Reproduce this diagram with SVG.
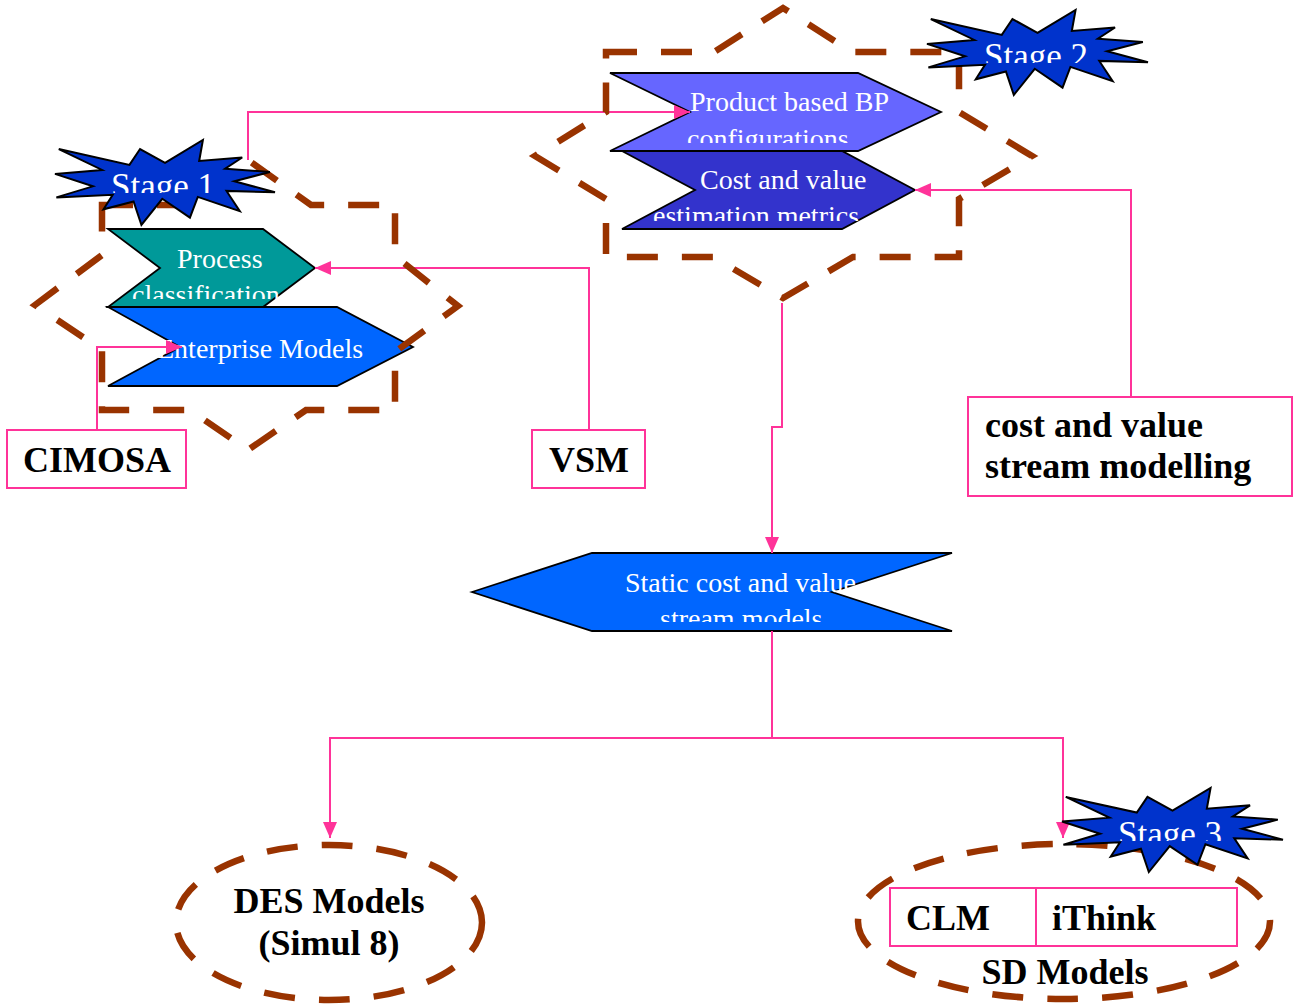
<svg xmlns="http://www.w3.org/2000/svg" width="1293" height="1007" viewBox="0 0 1293 1007">
  <style>
    .zone { fill: none; stroke: #993300; stroke-width: 6.5; stroke-dasharray: 31 24; stroke-linejoin: miter; }
    .chev { stroke: #000; stroke-width: 1.8; stroke-linejoin: miter; }
    .ctext { font-family: "Liberation Serif", "Times New Roman", serif; font-size: 28px; fill: #fff; }
    .star { fill: #0033CC; stroke: #000; stroke-width: 2; vector-effect: non-scaling-stroke; stroke-linejoin: miter; }
    .stext { font-family: "Liberation Serif", "Times New Roman", serif; font-size: 35px; fill: #fff; text-anchor: middle; }
    .box { fill: #fff; stroke: #FF3399; stroke-width: 2; }
    .btext { font-family: "Liberation Serif", "Times New Roman", serif; font-size: 36px; font-weight: bold; fill: #000; }
    .link { fill: none; stroke: #FF3399; stroke-width: 2; marker-end: url(#arr); }
    .plain { fill: none; stroke: #FF3399; stroke-width: 2; }
  </style>
  <defs>
    <marker id="arr" viewBox="0 0 16 14" refX="16" refY="7" markerWidth="16" markerHeight="14" orient="auto" markerUnits="userSpaceOnUse">
      <path d="M0,0 L16,7 L0,14 Z" fill="#FF3399"/>
    </marker>
    <clipPath id="clipProcess"><rect x="100" y="225" width="220" height="74"/></clipPath>
    <clipPath id="clipProduct"><rect x="600" y="65" width="350" height="78"/></clipPath>
    <clipPath id="clipCost"><rect x="600" y="148" width="330" height="73"/></clipPath>
    <clipPath id="clipStatic"><rect x="465" y="550" width="495" height="72"/></clipPath>
    <clipPath id="clipS1"><rect x="50" y="135" width="230" height="58"/></clipPath>
    <clipPath id="clipS2"><rect x="920" y="5" width="235" height="58"/></clipPath>
    <clipPath id="clipS3"><rect x="1055" y="783" width="235" height="58"/></clipPath>
  </defs>

  <rect width="1293" height="1007" fill="#fff"/>

  <!-- model ellipses -->
  <g id="des-models">
    <ellipse class="zone" cx="329" cy="922.5" rx="153" ry="77.5"/>
    <text class="btext" x="329" y="913" text-anchor="middle">DES Models</text>
    <text class="btext" x="329" y="955" text-anchor="middle">(Simul 8)</text>
  </g>
  <g id="sd-models">
    <ellipse class="zone" cx="1064" cy="921.5" rx="206" ry="77.5"/>
    <rect class="box" x="890" y="888" width="347" height="58"/>
    <line class="plain" x1="1036" y1="888" x2="1036" y2="946"/>
    <text class="btext" x="906" y="930">CLM</text>
    <text class="btext" x="1052" y="930">iThink</text>
    <text class="btext" x="1065" y="984" text-anchor="middle">SD Models</text>
  </g>

  <!-- process chevrons -->
  <g id="process-classification">
    <polygon class="chev" fill="#009999" points="108,229 263,229 315,268 263,307 108,307 160,268"/>
    <g clip-path="url(#clipProcess)">
      <text class="ctext" x="177" y="268">Process</text>
      <text class="ctext" x="132" y="304">classification</text>
    </g>
  </g>
  <g id="enterprise-models">
    <polygon class="chev" fill="#0066FF" points="108,307 337,307 413,347 337,386 108,386 180,347"/>
    <text class="ctext" x="157" y="358">Enterprise Models</text>
  </g>
  <g id="product-bp">
    <polygon class="chev" fill="#6666FF" points="610,73 858,73 941,112 858,151 610,151 690,112"/>
    <g clip-path="url(#clipProduct)">
      <text class="ctext" x="690" y="111">Product based BP</text>
      <text class="ctext" x="687" y="148">configurations</text>
    </g>
  </g>
  <g id="cost-value-metrics">
    <polygon class="chev" fill="#3333CC" points="622,151 842,151 915,190 842,229 622,229 695,190"/>
    <g clip-path="url(#clipCost)">
      <text class="ctext" x="700" y="189">Cost and value</text>
      <text class="ctext" x="653" y="225">estimation metrics</text>
    </g>
  </g>
  <g id="static-models">
    <polygon class="chev" fill="#0066FF" points="472,592 592,553 952,553 832,592 952,631 592,631"/>
    <g clip-path="url(#clipStatic)">
      <text class="ctext" x="625" y="592">Static cost and value</text>
      <text class="ctext" x="660" y="628">stream models</text>
    </g>
  </g>

  <!-- method boxes -->
  <g id="cimosa">
    <rect class="box" x="7" y="430" width="179" height="58"/>
    <text class="btext" x="23" y="472">CIMOSA</text>
  </g>
  <g id="vsm">
    <rect class="box" x="532" y="430" width="113" height="58"/>
    <text class="btext" x="549" y="472">VSM</text>
  </g>
  <g id="cvsm">
    <rect class="box" x="968" y="397" width="324" height="99"/>
    <text class="btext" x="985" y="437">cost and value</text>
    <text class="btext" x="985" y="478">stream modelling</text>
  </g>

  <!-- connectors -->
  <g id="connectors">
    <path class="link" d="M248,160 V112 H690"/>
    <path class="link" d="M589,430 V268 H315"/>
    <path class="link" d="M97,430 V347 H182"/>
    <path class="link" d="M1131,397 V190 H915"/>
    <path class="link" d="M782,303 V427 H772 V553"/>
    <path class="plain" d="M772,631 V738"/>
    <path class="link" d="M772,738 H330 V838"/>
    <path class="link" d="M772,738 H1063 V838"/>
  </g>

  <!-- stage boundaries -->
  <g id="stage1-zone">
    <path class="zone" d="M102,205 L185,205 L248,160 L311,205 L395,205 L395,256 L458,306 L395,352 L395,410 L306,410 L248,450 L190,410 L102,410 L102,350 L35,305 L102,255 Z"/>
  </g>
  <g id="stage2-zone">
    <path class="zone" d="M606,52 L714,52 L783,8 L852,52 L959,52 L959,112 L1032,156 L959,199 L959,257 L853,257 L783,298 L713,257 L606,257 L606,199 L535,156 L606,112 Z"/>
  </g>

  <!-- stage badges -->
  <g id="stage1">
    <polygon class="star" transform="translate(55,140) scale(0.010185,0.003935)" points="10800,5800 14522,0 14155,5325 18380,4457 16702,7315 21097,8137 17607,10475 21600,13290 16837,12942 18145,18095 14020,14457 13247,19737 10532,14935 8485,21600 7715,15627 4762,17617 5667,13937 135,14587 3722,11775 0,8615 4627,7617 370,2295 7312,6320 8352,2295"/>
    <text class="stext" x="163" y="198" clip-path="url(#clipS1)">Stage 1</text>
  </g>
  <g id="stage2">
    <polygon class="star" transform="translate(927,10) scale(0.010231,0.003935)" points="10800,5800 14522,0 14155,5325 18380,4457 16702,7315 21097,8137 17607,10475 21600,13290 16837,12942 18145,18095 14020,14457 13247,19737 10532,14935 8485,21600 7715,15627 4762,17617 5667,13937 135,14587 3722,11775 0,8615 4627,7617 370,2295 7312,6320 8352,2295"/>
    <text class="stext" x="1036" y="68" clip-path="url(#clipS2)">Stage 2</text>
  </g>
  <g id="stage3">
    <polygon class="star" transform="translate(1062,788) scale(0.010231,0.00389)" points="10800,5800 14522,0 14155,5325 18380,4457 16702,7315 21097,8137 17607,10475 21600,13290 16837,12942 18145,18095 14020,14457 13247,19737 10532,14935 8485,21600 7715,15627 4762,17617 5667,13937 135,14587 3722,11775 0,8615 4627,7617 370,2295 7312,6320 8352,2295"/>
    <text class="stext" x="1170" y="846" clip-path="url(#clipS3)">Stage 3</text>
  </g>
</svg>
